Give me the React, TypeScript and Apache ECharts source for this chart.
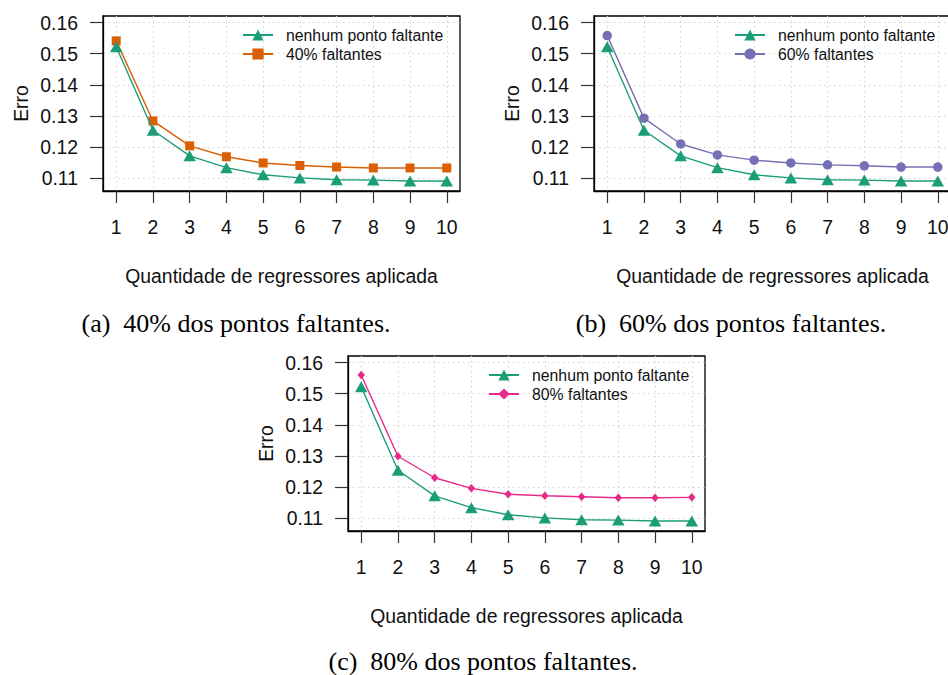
import React, { useEffect, useRef } from "react";
import * as echarts from "echarts";

const xTicks = [1, 2, 3, 4, 5, 6, 7, 8, 9, 10];
const yTicks = [0.11, 0.12, 0.13, 0.14, 0.15, 0.16];
const nomeBase = "nenhum ponto faltante";
const semFaltantes = [0.1522, 0.1254, 0.1172, 0.1134, 0.1111, 0.1101, 0.1095, 0.1094, 0.1091, 0.1091];
const faltantes40 = [0.1541, 0.1284, 0.1204, 0.1169, 0.1149, 0.1141, 0.1136, 0.1133, 0.1133, 0.1133];
const faltantes60 = [0.1558, 0.1293, 0.121, 0.1175, 0.1158, 0.1149, 0.1143, 0.114, 0.1136, 0.1136];
const faltantes80 = [0.156, 0.1299, 0.123, 0.1196, 0.1177, 0.1172, 0.1169, 0.1166, 0.1166, 0.1167];
const nomes = ["40% faltantes", "60% faltantes", "80% faltantes"];
const legendas = ["(a)\u00a0 40% dos pontos faltantes.", "(b)\u00a0 60% dos pontos faltantes.", "(c)\u00a0 80% dos pontos faltantes."];
const xTitle = "Quantidade de regressores aplicada";
const yTitle = "Erro";

const SANS = "'Liberation Sans', Arial, Helvetica, sans-serif";
const SERIF = "'Liberation Serif', 'Times New Roman', serif";
const GREEN = "#1B9E77";

interface PanelCfg {
  left: number;
  top: number;
  legendLeft: number;
  name: string;
  data: number[];
  color: string;
  symbol: string;
  symbolSize: number | number[];
  caption: string;
  capX: number;
  capY: number;
}

const panels: PanelCfg[] = [
  { left: 103, top: 16, legendLeft: 242, name: nomes[0], data: faltantes40, color: "#D95F02", symbol: "rect", symbolSize: 9, caption: legendas[0], capX: 236, capY: 323 },
  { left: 594, top: 16, legendLeft: 734, name: nomes[1], data: faltantes60, color: "#7570B3", symbol: "circle", symbolSize: 9.5, caption: legendas[1], capX: 731, capY: 323 },
  { left: 348, top: 356, legendLeft: 488, name: nomes[2], data: faltantes80, color: "#E7298A", symbol: "diamond", symbolSize: [7.5, 8.5], caption: legendas[2], capX: 483, capY: 661 },
];

function buildOption() {
  const grid: any[] = [];
  const xAxis: any[] = [];
  const yAxis: any[] = [];
  const series: any[] = [];
  const legend: any[] = [];
  const graphic: any[] = [];

  panels.forEach((p, i) => {
    grid.push({
      left: p.left,
      top: p.top,
      width: 357,
      height: 175,
      show: true,
      borderColor: "#000",
      borderWidth: 1.3,
      backgroundColor: "transparent",
      containLabel: false,
      outerBoundsMode: "none",
    });
    xAxis.push({
      type: "value",
      gridIndex: i,
      min: 0.64,
      max: 10.36,
      axisLine: { show: true, lineStyle: { color: "#000", width: 1.3 } },
      axisTick: { show: true, length: 12, customValues: xTicks, lineStyle: { color: "#333", width: 1.2 } },
      axisLabel: { customValues: xTicks, margin: 26, fontSize: 19.4, color: "#111", fontFamily: SANS, showMinLabel: true, showMaxLabel: true },
      splitLine: { show: true, lineStyle: { color: "#d4d4d4", type: [1.5, 3.5], width: 1.1 } },
      name: xTitle,
      nameLocation: "middle",
      nameGap: 75,
      nameTextStyle: { fontSize: 19.4, color: "#111", fontFamily: SANS },
    });
    yAxis.push({
      type: "value",
      gridIndex: i,
      min: 0.1059,
      max: 0.1621,
      axisLine: { show: true, lineStyle: { color: "#000", width: 1.3 } },
      axisTick: { show: true, length: 13, customValues: yTicks, lineStyle: { color: "#333", width: 1.2 } },
      axisLabel: {
        customValues: yTicks,
        margin: 25,
        fontSize: 19.4,
        color: "#111",
        fontFamily: SANS,
        formatter: (v: number) => v.toFixed(2),
      },
      splitLine: { show: true, lineStyle: { color: "#d4d4d4", type: [1.5, 3.5], width: 1.1 } },
      name: yTitle,
      nameLocation: "middle",
      nameGap: 73,
      nameRotate: 90,
      nameTextStyle: { fontSize: 19.4, color: "#111", fontFamily: SANS },
    });
    series.push({
      type: "line",
      name: p.name,
      xAxisIndex: i,
      yAxisIndex: i,
      data: xTicks.map((x, k) => [x, p.data[k]]),
      symbol: p.symbol,
      symbolSize: p.symbolSize,
      showSymbol: true,
      lineStyle: { color: p.color, width: 1.4 },
      itemStyle: { color: p.color },
      z: 2,
    });
    series.push({
      type: "line",
      name: nomeBase,
      xAxisIndex: i,
      yAxisIndex: i,
      data: xTicks.map((x, k) => [x, semFaltantes[k]]),
      symbol: "triangle",
      symbolSize: [12.5, 11],
      showSymbol: true,
      lineStyle: { color: GREEN, width: 1.4 },
      itemStyle: { color: GREEN },
      z: 3,
    });
    legend.push({
      orient: "vertical",
      left: p.legendLeft,
      top: p.top + 11,
      padding: 0,
      itemWidth: 30,
      itemHeight: 14,
      itemGap: 3,
      selectedMode: false,
      data: [nomeBase, p.name],
      textStyle: { fontSize: 15.8, color: "#111", fontFamily: SANS, padding: [0, 0, 0, 8] },
    });
    graphic.push({
      type: "text",
      x: p.capX,
      y: p.capY,
      style: {
        text: p.caption,
        fill: "#000",
        font: `26px ${SERIF}`,
        textAlign: "center",
        textVerticalAlign: "middle",
        verticalAlign: "middle",
      },
    });
  });

  return {
    animation: false,
    backgroundColor: "#fff",
    grid,
    xAxis,
    yAxis,
    series,
    legend,
    graphic,
  };
}

export default function App() {
  const ref = useRef<HTMLDivElement>(null);
  useEffect(() => {
    if (!ref.current) return;
    const chart = echarts.init(ref.current, null, { renderer: "svg" });
    chart.setOption(buildOption() as any);
    return () => chart.dispose();
  }, []);
  return (
    <div
      ref={ref}
      style={{ position: "absolute", left: 0, top: 0, width: 948, height: 675, background: "#fff" }}
    />
  );
}
